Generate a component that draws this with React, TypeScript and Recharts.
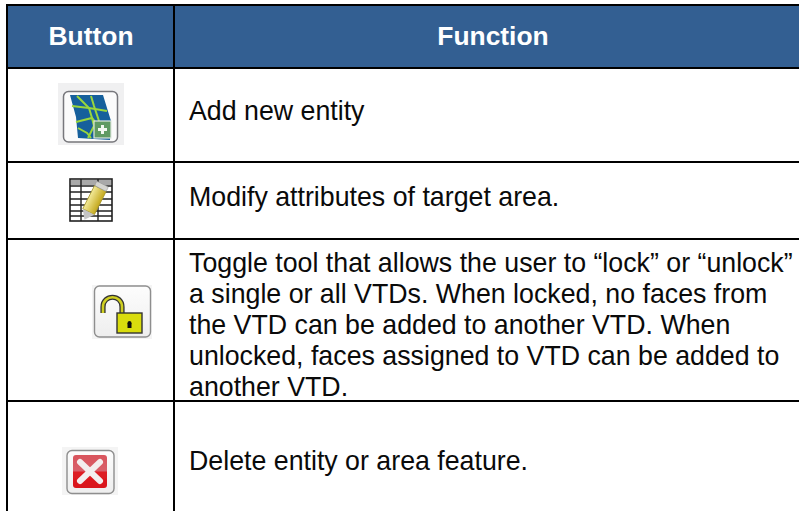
import React from "react";
import { ComposedChart, XAxis, YAxis, Scatter, ReferenceArea, ReferenceLine } from "recharts";

// ---- content ----
const headers = ["Button", "Function"];
const buttonIcons = ["map", "table", "lock", "delete"];
const functionLines = [
  ["Add new entity"],
  ["Modify attributes of target area."],
  [
    "Toggle tool that allows the user to “lock” or “unlock”",
    "a single or all VTDs. When locked, no faces from",
    "the VTD can be added to another VTD. When",
    "unlocked, faces assigned to VTD can be added to",
    "another VTD.",
  ],
  ["Delete entity or area feature."],
];

// ---- layout ----
const W = 799;
const H = 511;
const FONT = "'Liberation Sans', Arial, sans-serif";
const colEdges = [7, 174, W];
const rowEdges = [5, 68, 162, 239, 401];
const headerCenters = [91, 493];
const headerBaseline = 45;
const iconCenters = [
  [91, 114],
  [91, 200],
  [122, 312],
  [90, 471],
];
const textX = 189;
const firstBaselines = [119.5, 205.5, 271.5, 470];
const lineHeight = 31;
const fontSize = 26.75;
const headerFontSize = 26.4;
const BLUE = "#335F92";

const iconRows = buttonIcons.map((icon, i) => ({ x: iconCenters[i][0], y: iconCenters[i][1], icon }));
const textRows = functionLines.flatMap((lines, r) =>
  lines.map((text, i) => ({ x: textX, y: firstBaselines[r] + i * lineHeight, text }))
);
const headerRows = headers.map((text, i) => ({ x: headerCenters[i], y: headerBaseline, text }));

const Defs = () => (
  <defs>
    <linearGradient id="btn" x1="0" y1="0" x2="0" y2="1">
      <stop offset="0" stopColor="#fdfdfd" />
      <stop offset="1" stopColor="#eeeeee" />
    </linearGradient>
    <linearGradient id="red" x1="0" y1="0" x2="0" y2="1">
      <stop offset="0" stopColor="#d9545c" />
      <stop offset="0.48" stopColor="#d8606a" />
      <stop offset="0.52" stopColor="#de1c22" />
      <stop offset="1" stopColor="#d9161c" />
    </linearGradient>
    <linearGradient id="pencil" x1="0" y1="0" x2="1" y2="0">
      <stop offset="0" stopColor="#f3ea9a" />
      <stop offset="1" stopColor="#c4a81c" />
    </linearGradient>
    <filter id="soft" x="-5%" y="-5%" width="110%" height="110%">
      <feGaussianBlur stdDeviation="0.55" />
    </filter>
  </defs>
);

const MapIcon = () => (
  <g filter="url(#soft)">
    <rect x={-33} y={-31} width={66} height={62} fill="#f0f0f1" />
    <rect x={-27.5} y={-22.5} width={54} height={50.5} rx={5} fill="#fbfbfb" stroke="#77777b" strokeWidth={1.5} />
    <polygon points="-21,-19 12,-19 20,7 19,26 -13,24 -15,3" fill="#15609c" />
    <g fill="none" stroke="#9ad63c" strokeWidth={2}>
      <path d="M-14,-18 L-2,-6 L1,4 L3,12 L-3,24" />
      <path d="M-19,-8 L-2,-6 L16,-3" />
      <path d="M0,-18 L3,-8 L8,7" />
      <path d="M-15,8 L1,4 L5,9" />
      <path d="M-13,14 L-4,19 L0,24" />
    </g>
    <rect x={3} y={7} width={17} height={17} fill="#5f9a62" stroke="#dfe8df" strokeWidth={1.2} />
    <path d="M11.5,11 V20 M7,15.5 H16" stroke="#f2f7f0" strokeWidth={3} />
  </g>
);

const TableIcon = () => (
  <g filter="url(#soft)">
    <rect x={-21} y={-21} width={42} height={42} fill="#ffffff" stroke="#222" strokeWidth={1.6} />
    <rect x={-20} y={-20} width={40} height={5} fill="#a9a9a9" />
    <path d="M-21,-14 H21 M-21,-8 H21 M-21,-1 H21 M-21,5 H21 M-21,11 H21 M-21,16 H21" stroke="#222" strokeWidth={1.4} />
    <path d="M-10,-21 V21 M7,-21 V21" stroke="#222" strokeWidth={1.4} />
    <g transform="translate(3,1) rotate(27)">
      <rect x={-6.5} y={-14} width={13} height={26} fill="url(#pencil)" stroke="#aa9a30" strokeWidth={0.8} />
      <rect x={-6.5} y={-19} width={13} height={5} rx={1.5} fill="#d5d5d0" stroke="#999" strokeWidth={0.6} />
      <polygon points="-6.5,12 6.5,12 0,21" fill="#c4c4c4" />
    </g>
  </g>
);

const LockIcon = () => (
  <g filter="url(#soft)">
    <rect x={-30} y={-27} width={60} height={54} fill="#f4f4f4" />
    <rect x={-27.5} y={-26} width={56} height={51} rx={5} fill="url(#btn)" stroke="#8e8e8e" strokeWidth={1.4} />
    <path d="M-19,1 V-5 C-19,-18 0,-18 0,-5 V1" fill="none" stroke="#333" strokeWidth={5.2} />
    <path d="M-19,1 V-5 C-19,-18 0,-18 0,-5 V1" fill="none" stroke="#cfcf20" strokeWidth={2.6} />
    <rect x={-5} y={1} width={25} height={20} fill="#d9dc0c" stroke="#333" strokeWidth={1.4} />
    <circle cx={7.5} cy={11} r={2} fill="#111" />
    <rect x={5.5} y={11} width={4} height={5} fill="#111" />
  </g>
);

const DeleteIcon = () => (
  <g filter="url(#soft)">
    <rect x={-28} y={-24} width={56} height={48} fill="#f4f4f4" />
    <rect x={-23} y={-20.5} width={47} height={43} rx={5} fill="url(#btn)" stroke="#8e8e8e" strokeWidth={1.4} />
    <rect x={-17} y={-16} width={34} height={33} rx={3} fill="url(#red)" />
    <path d="M-10,-9 L10,10 M10,-9 L-10,10" stroke="#f3eeee" strokeWidth={6} strokeLinecap="round" />
  </g>
);

const icons: Record<string, React.FC> = { map: MapIcon, table: TableIcon, lock: LockIcon, delete: DeleteIcon };

const IconShape = (p: any) => {
  const Icon = icons[p.icon ?? p.payload?.icon];
  return (
    <g transform={`translate(${p.cx},${p.cy})`}>
      <Icon />
    </g>
  );
};

const BodyText = (p: any) => (
  <text x={p.cx} y={p.cy} fontFamily={FONT} fontSize={fontSize} fill="#0a0a0a">
    {p.text ?? p.payload?.text}
  </text>
);

const HeaderText = (p: any) => (
  <text x={p.cx} y={p.cy} fontFamily={FONT} fontSize={headerFontSize} fontWeight={700} fill="#ffffff" textAnchor="middle">
    {p.text ?? p.payload?.text}
  </text>
);

export default function App() {
  return (
    <div style={{ position: "absolute", left: 0, top: 0, width: W, height: H, background: "#fff" }}>
      <ComposedChart width={W} height={H} margin={{ top: 0, right: 0, bottom: 0, left: 0 }}>
        <Defs />
        <XAxis type="number" dataKey="x" domain={[0, W]} hide allowDataOverflow />
        <YAxis type="number" dataKey="y" domain={[0, H]} reversed hide allowDataOverflow />
        <ReferenceArea x1={colEdges[0]} x2={W} y1={rowEdges[0]} y2={rowEdges[1]} fill={BLUE} fillOpacity={1} stroke="none" ifOverflow="visible" />
        {rowEdges.map((y) => (
          <ReferenceLine key={y} segment={[{ x: colEdges[0] - 1, y }, { x: W, y }]} stroke="#000" strokeWidth={2} ifOverflow="visible" />
        ))}
        {colEdges.slice(0, 2).map((x) => (
          <ReferenceLine key={x} segment={[{ x, y: rowEdges[0] }, { x, y: H }]} stroke="#000" strokeWidth={2} ifOverflow="visible" />
        ))}
        <Scatter data={iconRows} shape={IconShape} isAnimationActive={false} />
        <Scatter data={textRows} shape={BodyText} isAnimationActive={false} />
        <Scatter data={headerRows} shape={HeaderText} isAnimationActive={false} />
      </ComposedChart>
    </div>
  );
}
